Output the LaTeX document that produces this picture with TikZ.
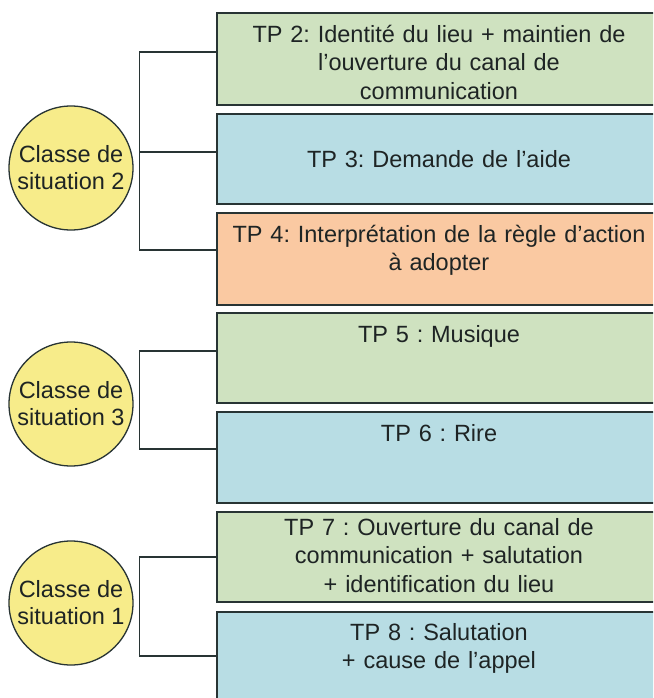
\documentclass[tikz,border=0pt]{standalone}
\usepackage{fontspec}
\setmainfont{Liberation Sans}
\frenchspacing
\definecolor{bordc}{RGB}{40,52,52}
\definecolor{textc}{RGB}{30,36,36}
\definecolor{greenf}{RGB}{207,226,192}
\definecolor{bluef}{RGB}{184,221,228}
\definecolor{orangef}{RGB}{250,201,162}
\definecolor{yellowf}{RGB}{247,236,138}
\begin{document}
\begin{tikzpicture}[x=1pt,y=-1pt,
  tpbox/.style={draw=bordc,line width=1.5pt,rectangle,inner sep=0pt,outer sep=0pt,
    minimum width=444pt,anchor=north west},
  tptext/.style={text=textc,font=\fontsize{23.5}{28.5}\selectfont,text width=440pt,
    align=center,inner sep=0pt,anchor=north},
  classe/.style={draw=bordc,line width=1.3pt,circle,fill=yellowf,minimum size=124pt,
    inner sep=0pt,text=textc,font=\fontsize{23.5}{27}\selectfont,align=center},
  conn/.style={draw=bordc,line width=1.3pt}]
\clip (0,0) rectangle (653,698);
\fill[white] (0,0) rectangle (653,698);
% boxes
\node[tpbox,fill=greenf,minimum height=92pt] (b1) at (217,13) {};
\node[tpbox,fill=bluef,minimum height=90pt] (b2) at (217,114) {};
\node[tpbox,fill=orangef,minimum height=92pt] (b3) at (217,213) {};
\node[tpbox,fill=greenf,minimum height=90pt] (b4) at (217,313) {};
\node[tpbox,fill=bluef,minimum height=91pt] (b5) at (217,412) {};
\node[tpbox,fill=greenf,minimum height=90pt] (b6) at (217,512) {};
\node[tpbox,fill=bluef,minimum height=90pt] (b7) at (217,612) {};
% texts
\node[tptext] (t1) at (439,22) {\strut TP 2: Identité du lieu + maintien de\\ l’ouverture du canal de\\ communication};
\node[tptext] (t2) at (439,147) {\strut TP 3: Demande de l’aide};
\node[tptext] (t3) at (439,222) {\strut TP 4: Interprétation de la règle d’action\\ à adopter};
\node[tptext] (t4) at (439,322) {\strut TP 5 : Musique};
\node[tptext] (t5) at (439,421) {\strut TP 6 : Rire};
\node[tptext] (t6) at (439,515) {\strut TP 7 : Ouverture du canal de\\ communication + salutation\\ + identification du lieu};
\node[tptext] (t7) at (439,620) {\strut TP 8 : Salutation\\ + cause de l’appel};
% circles
\node[classe] (c1) at (71,168) {Classe de\\ situation 2};
\node[classe] (c2) at (71,404) {Classe de\\ situation 3};
\node[classe] (c3) at (71,603) {Classe de\\ situation 1};
% bracket points
\coordinate (k1) at ([xshift=6pt]c1.east);
\coordinate (k2) at ([xshift=6pt]c2.east);
\coordinate (k3) at ([xshift=6pt]c3.east);
\coordinate (p1) at ([yshift=7pt]b1.west);
\coordinate (p2) at ([yshift=7pt]b2.west);
\coordinate (p3) at ([yshift=9pt]b3.west);
\coordinate (p4) at ([yshift=7pt]b4.west);
\coordinate (p5) at ([yshift=8.5pt]b5.west);
\coordinate (p6) at (b6.west);
\coordinate (p7) at ([yshift=1pt]b7.west);
% connectors
\draw[conn] (p1) -| (k1) |- (p3);
\draw[conn] (p2) -- (p2 -| k1);
\draw[conn] (p4) -| (k2) |- (p5);
\draw[conn] (p6) -| (k3) |- (p7);
\end{tikzpicture}
\end{document}
